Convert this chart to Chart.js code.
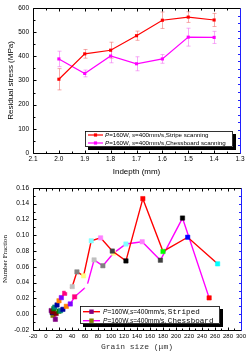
<!DOCTYPE html>
<html><head><meta charset="utf-8">
<script src="https://cdn.jsdelivr.net/npm/chart.js@4.4.1/dist/chart.umd.min.js"></script>
<style>
html,body{margin:0;padding:0;background:#fff;width:249px;height:352px;overflow:hidden}
#c1{position:absolute;left:0;top:0}
#c2{position:absolute;left:0;top:180px}
</style></head><body>
<canvas id="c1" width="249" height="180"></canvas>
<canvas id="c2" width="249" height="172"></canvas>
<script>
// ---- Top chart data ----
const indepth = [2.0, 1.9, 1.8, 1.7, 1.6, 1.5, 1.4];
const stripeStress = [305, 410, 425, 485, 549, 562, 550];
const stripeErr = [44, 18, 33, 19, 34, 22, 27];
const chessStress = [389, 329, 401, 369, 389, 479, 478];
const chessErr = [32, 14, 28, 29, 18, 37, 25];
const indepthTicks = [2.1, 2.0, 1.9, 1.8, 1.7, 1.6, 1.5, 1.4, 1.3];
const stressTicks = [0, 100, 200, 300, 400, 500, 600];

// ---- Bottom chart data ----
const stripedSize = [8, 10, 12, 13.5, 17, 20, 23.6, 28.7, 34, 40.4, 47.6, 57.8, 69.6, 84, 102, 123, 149, 180, 218, 264];
const stripedFrac = [0.0046, 0.003, 0.007, 0.009, 0.0117, 0.017, 0.021, 0.0265, 0.031, 0.035, 0.0536, 0.0486, 0.093, 0.0967, 0.080, 0.0675, 0.1464, 0.0795, 0.0975, 0.0638];
const chessSize = [10.7, 9.5, 14.4, 15.6, 20, 22.5, 26, 31.3, 37.4, 44, 63, 74, 87.5, 104, 123, 148, 176, 210, 251];
const chessFrac = [-0.0015, 0.002, -0.0065, 0.001, 0.0038, 0.0045, 0.0062, 0.010, 0.013, 0.022, 0.0356, 0.0688, 0.0614, 0.0774, 0.0889, 0.0918, 0.0684, 0.1218, 0.0207];
const grainTicks = [-20, 0, 20, 40, 60, 80, 100, 120, 140, 160, 180, 200, 220, 240, 260, 280, 300];
const fracTicks = [-0.02, 0.00, 0.02, 0.04, 0.06, 0.08, 0.10, 0.12, 0.14, 0.16];

// Origin-style incrementing symbol colours
const stripedColors = ['#800080','#800000','#008000','#008080','#0000A0','#FF8000','#8000FF','#FF0080','#FFFFFF','#C0C0C0','#808080','#FFFF80','#80FFFF','#FF80FF','#404040','#000000','#FF0000','#00FF00','#0000FF','#00FFFF'];
const chessColors = ['#808000','#000080','#800080','#800000','#008000','#008080','#0000A0','#FF8000','#8000FF','#FF0080','#FFFFFF','#C0C0C0','#808080','#FFFF80','#80FFFF','#FF80FF','#404040','#000000','#FF0000'];

Chart.defaults.font.family = "'Liberation Sans', Arial, sans-serif";
Chart.defaults.color = '#000';

const errPlugin = {
  id: 'errbars',
  beforeDatasetsDraw(chart) {
    const {ctx, scales: {x, y}} = chart;
    chart.data.datasets.forEach(ds => {
      if (!ds.errors) return;
      ctx.save();
      ctx.strokeStyle = ds.errColor;
      ctx.lineWidth = 1;
      ds.data.forEach((p, j) => {
        const px = Math.round(x.getPixelForValue(p.x)) + 0.5;
        const t = y.getPixelForValue(p.y + ds.errors[j]);
        const b = y.getPixelForValue(p.y - ds.errors[j]);
        ctx.beginPath();
        ctx.moveTo(px, t); ctx.lineTo(px, b);
        ctx.moveTo(px - 2, t); ctx.lineTo(px + 2, t);
        ctx.moveTo(px - 2, b); ctx.lineTo(px + 2, b);
        ctx.stroke();
      });
      ctx.restore();
    });
  }
};

function withMinor(arr) {
  const out = [];
  for (let i = 0; i < arr.length; i++) {
    out.push({v: arr[i], major: true});
    if (i < arr.length - 1) out.push({v: (arr[i] + arr[i + 1]) / 2, major: false});
  }
  return out;
}

const framePlugin = {
  id: 'frame',
  afterDatasetsDraw(chart, args, opts) {
    const {ctx, chartArea: a, scales: {x, y}} = chart;
    const L = Math.round(a.left) + 0.5, R = Math.round(a.right) + 0.5;
    const T = Math.round(a.top) + 0.5, B = Math.round(a.bottom) + 0.5;
    ctx.save();
    ctx.lineWidth = 1;
    ctx.strokeStyle = '#000';
    ctx.beginPath();
    withMinor(opts.xTicks).forEach(t => {
      const p = Math.round(x.getPixelForValue(t.v)) + 0.5;
      const len = t.major ? 3 : 2;
      ctx.moveTo(p, B); ctx.lineTo(p, B - len);
      ctx.moveTo(p, T); ctx.lineTo(p, T + len);
    });
    withMinor(opts.yTicks).forEach(t => {
      const p = Math.round(y.getPixelForValue(t.v)) + 0.5;
      const len = t.major ? 3 : 2;
      ctx.moveTo(L, p); ctx.lineTo(L + len, p);
    });
    ctx.moveTo(L, T); ctx.lineTo(L, B); ctx.lineTo(R, B);
    ctx.moveTo(L, T); ctx.lineTo(R, T);
    ctx.stroke();
    ctx.strokeStyle = '#2020ff';
    ctx.beginPath();
    ctx.moveTo(R, T); ctx.lineTo(R, B);
    const n = opts.rightN;
    for (let i = 1; i < n; i++) {
      const p = Math.round(a.top + i * (a.bottom - a.top) / n) + 0.5;
      ctx.moveTo(R, p); ctx.lineTo(R - 2.5, p);
    }
    ctx.stroke();
    ctx.restore();
  }
};

const legendPlugin = {
  id: 'legendBox',
  afterDraw(chart, args, o) {
    const ctx = chart.ctx;
    ctx.save();
    ctx.fillStyle = '#000';
    ctx.fillRect(o.x + 3, o.y + 3, o.w, o.h);
    ctx.fillStyle = '#fff';
    ctx.fillRect(o.x, o.y, o.w, o.h);
    ctx.strokeStyle = '#000';
    ctx.lineWidth = 0.8;
    ctx.strokeRect(o.x + 0.5, o.y + 0.5, o.w - 1, o.h - 1);
    o.rows.forEach(r => {
      ctx.strokeStyle = r.line;
      ctx.lineWidth = o.lw;
      ctx.beginPath();
      ctx.moveTo(o.x + o.l1, r.y); ctx.lineTo(o.x + o.l2, r.y);
      ctx.stroke();
      ctx.fillStyle = r.marker;
      const m = (o.l1 + o.l2) / 2 + o.x;
      ctx.fillRect(m - o.ms / 2, r.y - o.ms / 2, o.ms, o.ms);
      let tx = o.x + o.tx;
      ctx.fillStyle = '#000';
      ctx.textBaseline = 'middle';
      r.parts.forEach(p => {
        ctx.font = p.f;
        ctx.fillText(p.t, tx, r.y + 0.5);
        tx += ctx.measureText(p.t).width;
      });
    });
    ctx.restore();
  }
};

const sansI1 = "italic 6.2px 'Liberation Sans', Arial, sans-serif";
const sansN1 = "6.2px 'Liberation Sans', Arial, sans-serif";
const sansI2 = "italic 6.6px 'Liberation Sans', Arial, sans-serif";
const sansN2 = "6.6px 'Liberation Sans', Arial, sans-serif";
const monoN = "7.6px 'Liberation Mono', 'Courier New', monospace";

// ---------------- Top chart ----------------
new Chart(document.getElementById('c1'), {
  type: 'line',
  data: {
    datasets: [
      {label: 'Stripe scanning', data: indepth.map((v, i) => ({x: v, y: stripeStress[i]})),
       borderColor: '#ff0000', backgroundColor: '#ff0000', borderWidth: 1.2,
       pointStyle: 'rect', pointRadius: 2.2, pointBorderWidth: 0,
       errors: stripeErr, errColor: 'rgba(240,100,100,0.55)'},
      {label: 'Chessboard scanning', data: indepth.map((v, i) => ({x: v, y: chessStress[i]})),
       borderColor: '#ff00ff', backgroundColor: '#ff00ff', borderWidth: 1.2,
       pointStyle: 'rect', pointRadius: 2.2, pointBorderWidth: 0,
       errors: chessErr, errColor: 'rgba(240,100,240,0.55)'}
    ]
  },
  options: {
    responsive: false, animation: false,
    layout: {padding: {left: 0, right: 9, top: 5, bottom: 0}},
    plugins: {
      legend: {display: false}, tooltip: {enabled: false},
      frame: {xTicks: indepthTicks, yTicks: stressTicks, rightN: 19},
      legendBox: {x: 85, y: 131, w: 148, h: 16, l1: 3, l2: 18, ms: 3.2, tx: 20, lw: 1.2,
        rows: [
          {y: 135, line: '#ff0000', marker: '#ff0000', parts: [{t: 'P', f: sansI1}, {t: '=160W, ', f: sansN1}, {t: 's', f: sansI1}, {t: '=400mm/s,Stripe scanning', f: sansN1}]},
          {y: 143, line: '#ff00ff', marker: '#ff00ff', parts: [{t: 'P', f: sansI1}, {t: '=160W, ', f: sansN1}, {t: 's', f: sansI1}, {t: '=400mm/s,Chessboard scanning', f: sansN1}]}
        ]}
    },
    scales: {
      x: {type: 'linear', reverse: true, min: 1.3, max: 2.1,
          afterBuildTicks: s => { s.ticks = indepthTicks.map(v => ({value: v})); },
          afterFit: s => { s.height = 27; },
          grid: {display: false, drawTicks: false}, border: {display: false},
          ticks: {padding: 2, maxRotation: 0, autoSkip: false, callback: v => Number(v).toFixed(1), font: {size: 6.5}},
          title: {display: true, text: 'Indepth (mm)', font: {size: 8}, padding: {top: 0, bottom: 3}}},
      y: {type: 'linear', min: 0, max: 600,
          afterBuildTicks: s => { s.ticks = stressTicks.map(v => ({value: v})); },
          afterFit: s => { s.width = 33; },
          grid: {display: false, drawTicks: false}, border: {display: false},
          ticks: {padding: 4, autoSkip: false, font: {size: 6.5}},
          title: {display: true, text: 'Residual stress (MPa)', font: {size: 8}, padding: {top: 6, bottom: 0}}}
    }
  },
  plugins: [errPlugin, framePlugin, legendPlugin]
});

// ---------------- Bottom chart ----------------
new Chart(document.getElementById('c2'), {
  type: 'line',
  data: {
    datasets: [
      {label: 'Striped', data: stripedSize.map((v, i) => ({x: v, y: stripedFrac[i]})),
       borderColor: '#ff0000', borderWidth: 1.4,
       pointStyle: 'rect', pointRadius: 3.1, pointBorderWidth: 0.5,
       pointBackgroundColor: stripedColors, pointBorderColor: stripedColors},
      {label: 'Chessboard', data: chessSize.map((v, i) => ({x: v, y: chessFrac[i]})),
       borderColor: '#ff00ff', borderWidth: 1.4,
       pointStyle: 'rect', pointRadius: 3.1, pointBorderWidth: 0.5,
       pointBackgroundColor: chessColors, pointBorderColor: chessColors}
    ]
  },
  options: {
    responsive: false, animation: false,
    layout: {padding: {left: 0, right: 8, top: 4, bottom: 0}},
    plugins: {
      legend: {display: false}, tooltip: {enabled: false},
      frame: {xTicks: grainTicks, yTicks: fracTicks, rightN: 18},
      legendBox: {x: 80, y: 126, w: 140, h: 18, l1: 3, l2: 20, ms: 4.4, tx: 23, lw: 1.4,
        rows: [
          {y: 131.7, line: '#ff0000', marker: stripedColors[0], parts: [{t: 'P', f: sansI2}, {t: '=160W,', f: sansN2}, {t: 's', f: sansI2}, {t: '=400mm/s, ', f: sansN2}, {t: 'Striped', f: monoN}]},
          {y: 140.7, line: '#ff00ff', marker: chessColors[0], parts: [{t: 'P', f: sansI2}, {t: '=160W,', f: sansN2}, {t: 's', f: sansI2}, {t: '=400mm/s, ', f: sansN2}, {t: 'Chessboard', f: monoN}]}
        ]}
    },
    scales: {
      x: {type: 'linear', min: -20, max: 300,
          afterBuildTicks: s => { s.ticks = grainTicks.map(v => ({value: v})); },
          afterFit: s => { s.height = 22; },
          grid: {display: false, drawTicks: false}, border: {display: false},
          ticks: {padding: 3, maxRotation: 0, autoSkip: false, font: {size: 6}},
          title: {display: true, text: 'Grain size (μm)', font: {family: "'Liberation Mono', 'Courier New', monospace", size: 8}, color: '#333', padding: {top: 0, bottom: 0}}},
      y: {type: 'linear', min: -0.02, max: 0.16,
          afterBuildTicks: s => { s.ticks = fracTicks.map(v => ({value: v})); },
          afterFit: s => { s.width = 33; },
          grid: {display: false, drawTicks: false}, border: {display: false},
          ticks: {padding: 4, autoSkip: false, callback: v => Number(v).toFixed(2), font: {size: 6.5}},
          title: {display: true, text: 'Number Fraction', font: {family: "'Liberation Serif', 'Times New Roman', serif", size: 7}, padding: {top: 1, bottom: 0}}}
    }
  },
  plugins: [framePlugin, legendPlugin]
});
</script>
</body></html>
